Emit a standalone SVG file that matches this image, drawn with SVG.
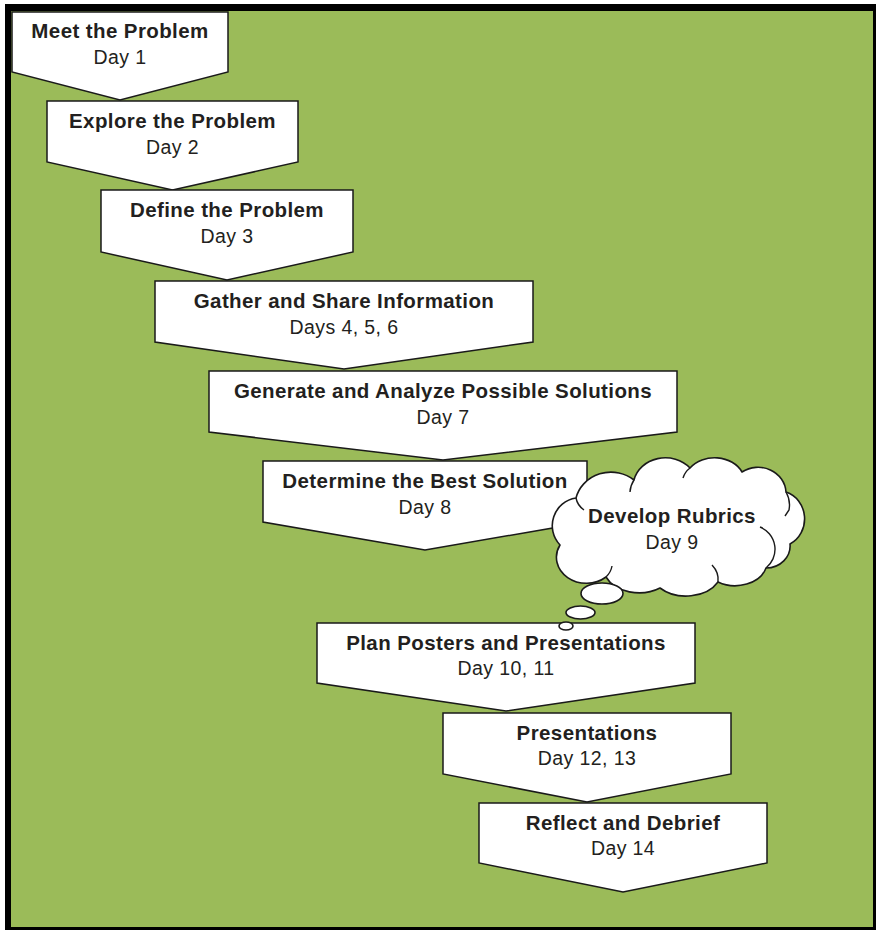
<svg xmlns="http://www.w3.org/2000/svg" width="877" height="930" viewBox="0 0 877 930">
<style>
.chev{fill:#ffffff;stroke:#1a1a1a;stroke-width:1.5;stroke-linejoin:miter}
.t{font-family:"Liberation Sans",Arial,Helvetica,sans-serif;font-size:20.5px;font-weight:bold;fill:#231f20;text-anchor:middle;letter-spacing:0.4px}
.d{font-family:"Liberation Sans",Arial,Helvetica,sans-serif;font-size:19.5px;fill:#231f20;text-anchor:middle;letter-spacing:0.4px}
.cloud{fill:#ffffff;stroke:#1a1a1a;stroke-width:1.6;stroke-linejoin:round}
.inner{fill:none;stroke:#1a1a1a;stroke-width:1.4}
</style>
<rect x="0" y="0" width="877" height="930" fill="#ffffff"/>
<rect x="11" y="11" width="862" height="916" fill="#9bbb59"/>
<g id="frame" fill="#000000">
<rect x="5" y="4" width="871" height="7"/>
<rect x="5" y="4" width="6" height="926"/>
<rect x="873" y="4" width="3" height="926"/>
<rect x="5" y="927" width="871" height="3"/>
</g>
<g id="connectors"></g>
<g id="meet">
<path class="chev" d="M12,12 H228 V72 L120,100 L12,72 Z"/>
<text class="t" x="120" y="38">Meet the Problem</text>
<text class="d" x="120" y="64">Day 1</text>
</g>
<g id="explore">
<path class="chev" d="M47,101 H298 V162 L172.5,190 L47,162 Z"/>
<text class="t" x="172.5" y="128">Explore the Problem</text>
<text class="d" x="172.5" y="154">Day 2</text>
</g>
<g id="define">
<path class="chev" d="M101,190 H353 V252 L227,280 L101,252 Z"/>
<text class="t" x="227" y="217">Define the Problem</text>
<text class="d" x="227" y="243">Day 3</text>
</g>
<g id="gather">
<path class="chev" d="M155,281 H533 V342 L344,369 L155,342 Z"/>
<text class="t" x="344" y="308">Gather and Share Information</text>
<text class="d" x="344" y="334">Days 4, 5, 6</text>
</g>
<g id="generate">
<path class="chev" d="M209,371 H677 V432 L443,460 L209,432 Z"/>
<text class="t" x="443" y="398">Generate and Analyze Possible Solutions</text>
<text class="d" x="443" y="424">Day 7</text>
</g>
<g id="determine">
<path class="chev" d="M263,461 H587 V522 L425,550 L263,522 Z"/>
<text class="t" x="425" y="488">Determine the Best Solution</text>
<text class="d" x="425" y="514">Day 8</text>
</g>
<g id="plan">
<path class="chev" d="M317,623 H695 V683 L506,711 L317,683 Z"/>
<text class="t" x="506" y="650">Plan Posters and Presentations</text>
<text class="d" x="506" y="675">Day 10, 11</text>
</g>
<g id="presentations">
<path class="chev" d="M443,713 H731 V774 L587,802 L443,774 Z"/>
<text class="t" x="587" y="740">Presentations</text>
<text class="d" x="587" y="765">Day 12, 13</text>
</g>
<g id="reflect">
<path class="chev" d="M479,803 H767 V863 L623,892 L479,863 Z"/>
<text class="t" x="623" y="830">Reflect and Debrief</text>
<text class="d" x="623" y="855">Day 14</text>
</g>
<g id="rubrics">
<path class="cloud" d="M560,545 A28,28 0 0 1 576,498 A36,34 0 0 1 634,480 A32,28 0 0 1 690,468 A30,24 0 0 1 742,472 A28,26 0 0 1 786,492 A26,28 0 0 1 790,544 A24,22 0 0 1 766,568 A32,24 0 0 1 718,582 A36,26 0 0 1 660,588 A36,26 0 0 1 606,577 A30,26 0 0 1 560,545 Z"/>
<path class="inner" d="M576,498 A24,20 0 0 0 584,510"/>
<path class="inner" d="M634,480 A30,26 0 0 0 630,492"/>
<path class="inner" d="M690,468 A20,20 0 0 0 683,478"/>
<path class="inner" d="M786,492 A26,26 0 0 1 789,510 L785,516"/>
<path class="inner" d="M760,527 A24,24 0 0 1 766,568"/>
<path class="inner" d="M718,582 A30,24 0 0 0 712,565"/>
<path class="inner" d="M606,577 A28,22 0 0 0 612,566"/>
<text class="t" x="672" y="523">Develop Rubrics</text>
<text class="d" x="672" y="549">Day 9</text>
<ellipse class="cloud" cx="602" cy="593.5" rx="21" ry="10.5"/>
<ellipse class="cloud" cx="580.5" cy="612.5" rx="14.5" ry="6.5"/>
<ellipse class="cloud" cx="566" cy="626" rx="7" ry="4"/>
</g>
</svg>
